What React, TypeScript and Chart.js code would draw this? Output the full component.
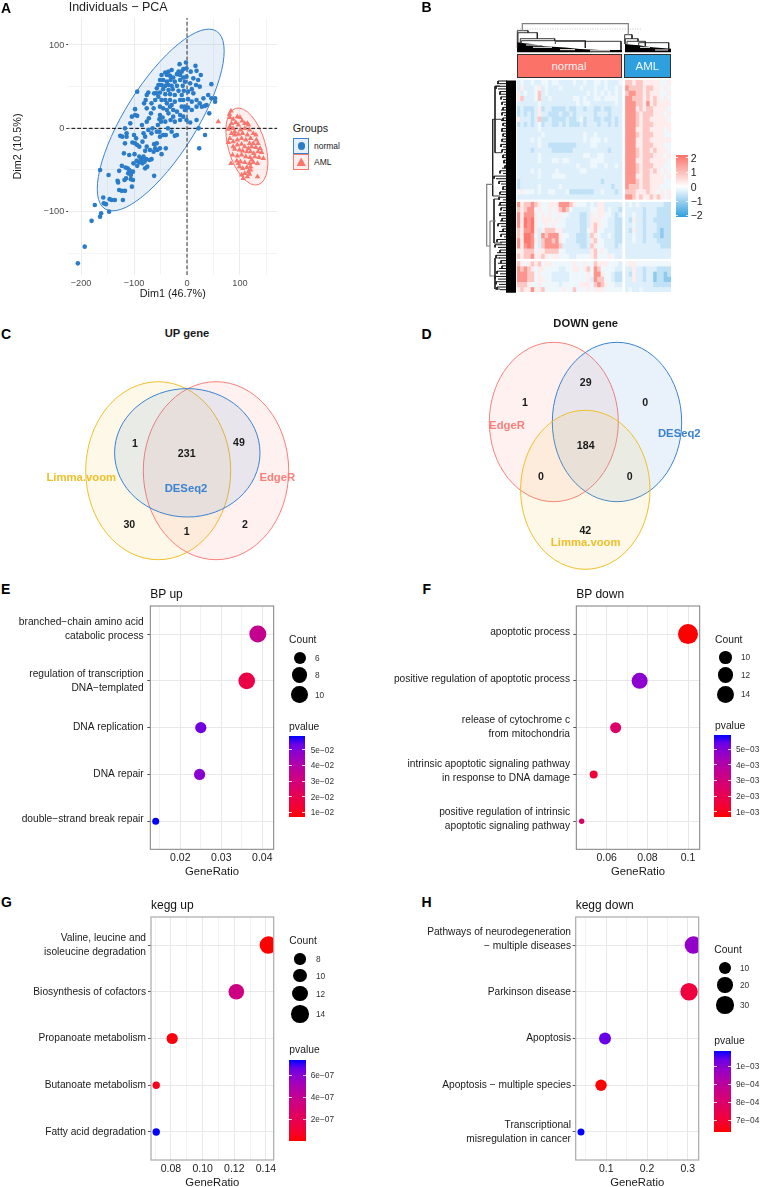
import React, { useEffect, useRef } from "react";
import { Chart, registerables } from "chart.js";

Chart.register(...registerables);
Chart.defaults.font.family = "'Liberation Sans', Arial, sans-serif";

const FONT = "'Liberation Sans', Arial, sans-serif";

/* ---------- Panel A data ---------- */
const pcaNormal: number[][] = [
  [-206,-162],[-193,-142],[-180,-111],[-164,-106],[-162,-102],[-147,-100],[-174,-92],[-157,-90],[-153,-91],[-158,-83],[-146,-85],[-142,-86],[-136,-86],[-121,-86],[-128,-74],[-123,-75],[-117,-75],[-104,-70],[-131,-63],[-130,-65],[-118,-62],[-115,-60],[-106,-61],[-102,-62],[-148,-56],[-164,-50],[-128,-51],[-123,-45],[-116,-47],[-112,-48],[-109,-50],[-106,-52],[-102,-52],[-111,-54],[-106,-56],[-62,-57],
  [-119,-30],[-109,-32],[-99,-31],[-95,-39],[-101,-42],[-90,-34],[-87,-38],[-84,-42],[-85,-36],[-80,-40],[-90,-41],[-77,-37],[-94,-45],[-75,-46],[-79,-48],[-82,-34],[-71,-38],[-67,-37],[-60,-24],[-57,-18],[-51,-24],[-48,-31],[-40,-24],[-62,-19],[-76,-22],[-79,-27],[-70,-26],[-56,-26],[-63,-28],
  [-126,-9],[-122,-10],[-114,-6],[-114,-10],[-103,-17],[-98,-18],[-94,-20],[-100,-8],[-96,-12],[-90,-22],[-117,-18],[-82,-6],[-79,-10],[-84,-16],[-67,-6],[-57,-4],[-51,-10],[-45,-8],[-40,-8],[-23,-9],[-19,-8],[-29,-4],[-36,0],[34,-8],[23,-24],[22,0],[-52,-4],[-65,0],[-73,-2],[-85,4],[-98,16],[-94,15],[-104,14],[-98,23],[-107,6],[-117,0],[-76,8],[-72,12],[-68,18],[-63,24],[-76,24],[-78,34],[-76,40],[-94,44],[-73,43],[-81,30],[-67,30],[-60,34],[-62,42],[-54,38],[-57,48],[-52,52],[-57,42],[-48,34],[-51,26],[-45,24],[-51,16],[-52,11],[-46,13],[-41,8],[-49,8],[-55,4],[-35,18],[-38,22],[-32,26],[-29,28],[-26,22],[-19,20],[-13,16],[-7,14],[-4,22],[-1,10],[6,7],[18,10],[-13,10],[-23,8],[-31,10],[-26,14],
  [-14,77],[-2,79],[16,75],[-7,71],[-1,72],[18,69],[7,68],[26,64],[-10,68],[-16,68],[-19,65],[-29,70],[-35,68],[-41,67],[-48,64],[-38,64],[-32,63],[-26,61],[-13,64],[-7,61],[-1,62],[12,60],[21,58],[-51,58],[-45,58],[-38,56],[-31,58],[-23,56],[-13,58],[-4,56],[6,54],[17,52],[-54,52],[-48,52],[-41,51],[-35,52],[-29,51],[-19,51],[-8,51],[9,47],[46,53],[24,50],[-45,47],[-35,46],[-27,47],[-16,45],[-6,45],[2,44],[-51,43],[-41,41],[-32,41],[-23,40],[-10,40],[12,42],[40,40],[46,36],[53,36],[53,32],[31,36],[18,34],[2,35],[9,32],[24,30],[34,27],[18,26],[28,26],[42,18],[37,28],[-7,34],[-13,34],[-23,32],[-32,34],[-41,34],[-38,30],[-4,26],[2,25],[9,22],[-10,26],
];
const pcaAml: number[][] = [
  [59,8],[83,21],[80,17],[95,14],[100,13],[87,11],[81,13],[104,9],[109,6],[114,6],[84,6],[92,7],[97,4],[81,2],[78,-1],[87,0],[101,-2],[109,0],[118,-2],[125,-6],[84,-6],[90,-8],[97,-7],[105,-6],[114,-8],[120,-12],[131,-14],[78,-17],[87,-16],[95,-14],[103,-12],[111,-14],[118,-18],[125,-18],[134,-18],[95,-20],[103,-19],[109,-22],[116,-24],[122,-22],[130,-23],[138,-24],[90,-25],[99,-26],[105,-27],[113,-28],[120,-28],[126,-30],[134,-28],[141,-29],[86,-32],[95,-33],[103,-32],[111,-34],[119,-35],[128,-34],[136,-35],[144,-36],[83,-42],[94,-39],[101,-40],[109,-41],[118,-42],[125,-41],[133,-42],[99,-46],[105,-48],[113,-47],[120,-46],[116,-52],[109,-54],[118,-55],[114,-58],[106,-60],[103,-56],[133,-58],[120,-50],[87,-22],[81,-12],[116,4],[90,-4],[130,-8],[122,-38],[97,-42],
];
const pcaTicksX = [-200, -150, -100, -50, 0, 50, 100, 150];
const pcaTicksY = [-150, -100, -50, 0, 50, 100];

/* ---------- Panel B data: one digit per cell, 0 = most negative, 8 = most positive, w = blank row ---------- */
const heatNormal = [
  "343343344344333343343344343334","353334534333433333433343343343","534334634333333333334343434343","563334633433333344343344344443","333333433333333334344333333343","232223523322223223323322322333","232323533222322323333323332333",
  "533323622322223223423322322323","232323423322323222323332332323","333333433333333333333333333333","333333343333333333343343333333","333343433333333333343444343333","333333433222222223333443333333","333323333322222233333333332333",
  "333333433333333333344334433333","333333433344344333333444433333","333333333333333334333443343343","333343433334333333443333333333","333333433344443333333333333333","233333333333333333333333233333","233333433333433333333333333233",
  "454443433443334222222233433323","333333333333333333333333333333","wwwwwwwwwwwwwwwwwwwwwwwwwwwwww","756676544555777654443435533333","656774544545676433333445534332","757775454544544333223545544323","758785455545443333223555443322",
  "758785445454443333223565443322","657785356665533333224564433322","658874376777544332223654334322","758875367767543332223564433322","757874367777633333223654433323","556664556666443333333564543333","656675565455444334444564445433",
  "wwwwwwwwwwwwwwwwwwwwwwwwwwwwww","654565645544444454454465554443","767654554444334455456476444433","777664544433333444445477544322","777664554433333444445376644322","666544544444344444555467654433","565575564444454464445455544444",
];
const heatAml = [
  "6656655555445","7666656655454","6776656555445","7766656565454","7776657565555","7775656655554","7776566655545",
  "7776566555554","7776566655555","7775566555545","7776566655544","7775566555555","7775566655544","7776566565554",
  "7776566655545","7775566555554","7776566655544","7776566565454","7775566555545","7776566555544","7666566555444",
  "6665556554545","7765655656545","wwwwwwwwwwwww","3434333333322","3333323332222","3343323332222","3253323322222",
  "3343323332222","3253323332122","3343323322122","3343323332222","3333333333222","3333333333333","3333333333333",
  "wwwwwwwwwwwww","4554444444444","3353323332222","3253323312212","3353323312211","3333333322222","3433433333333",
];
const heatCodeValues: Record<string, number> = { "0": -1.8, "1": -1.1, "2": -0.6, "3": -0.33, "4": -0.17, "5": 0.25, "6": 0.8, "7": 1.5, "8": 1.9, w: 0 };
const heatScaleTicks = [2, 1, 0, -1, -2];

/* dendrogram branches, in figure units; null starts a new branch */
const dendroGray: (number[] | null)[] = [
  [522.3,31],[522.3,23.7],[628.3,23.7],[628.3,34.7],null,
  [492.7,184.3],[486.7,184.3],[486.7,246],[490,246],null,
  [490,221],[490,276],[494,276],null,[490,221],[496,221],null,
];
const dendroBlack: (number[] | null)[] = [
  [517.3,48],[517.3,30.7],[528,30.7],[528,32.7],null,[518,42],[518,32.7],[537.3,32.7],[537.3,38.7],null,
  [520.3,44],[520.3,38.7],[554.7,38.7],[554.7,41],null,[521.3,44],[521.3,40.7],[585.3,40.7],[585.3,48],null,[555.3,44],[555.3,41.3],[621,41.3],[621,50],null,
  [624.7,44],[624.7,34.7],[632,34.7],[632,38.7],null,[625.3,44],[625.3,38.7],[638,38.7],[638,41.3],null,[627,44],[627,41.3],[645.3,41.3],[645.3,46],null,[638.7,46],[638.7,42.7],[668.7,42.7],[668.7,50],null,
  [492.7,119.3],[492.7,196],null,[492.7,119.3],[503,119.3],null,[492.7,196],[500,196],null,[495,86],[495,152.7],null,[495,86],[500,86],null,[495,152.7],[502,152.7],null,[494,199],[494,243],null,[494,199],[500,199],null,[494,243],[502,243],null,[495,258],[495,289],null,[495,258],[500,258],null,[495,289],[500,289],null,
];
const dendroWhiteGaps: (number[] | null)[] = [
  [526,45],[540,45],null,[533,47.3],[552,47.3],null,[560,49.7],[575,49.7],null,[590,50.8],[610,50.8],null,[640,47.3],[650,47.3],null,[655,50],[668,50],null,
];
const dendroMassTop = [[517,42],[522,43],[532,44],[545,46.3],[565,47.5],[580,49],[600,50],[622,50],[622,52.3],[517,52.3]];
const dendroMassTopAml = [[625,44],[632,44.7],[639,45.3],[652,47.3],[671,48.7],[671,52.3],[625,52.3]];
const dendroMassLeft = [[506,80.5],[516,80.5],[516,292.7],[506,292.7]];
/* where each row of the left dendrogram's leaf branches starts, top to bottom */
const dendroLeafStart = [
  498,497,496,498,500,499,501,503,502,504,503,501,502,504,503,501,503,504,502,501,
  503,504,502,503,501,503,502,504,503,502,504,503,505,502,500,503,494,496,499,501,
  503,502,500,501,499,503,500,498,501,503,500,499,502,500,498,501,503,499,501,504,
  497,500,495,498,500,497,496,499,501,498,502,499,497,500,495,498,496,499,497,500,
];

/* ---------- Panels C and D data ---------- */
const vennUpSets = [
  { name: "Limma.voom", x: 158.2, y: 470.7, rx: 72.5, ry: 89, color: "#EFBF2A" },
  { name: "EdgeR", x: 216, y: 470.7, rx: 72.7, ry: 89, color: "#FA7F7A" },
  { name: "DESeq2", x: 187.3, y: 452.8, rx: 72.7, ry: 64.2, color: "#3B82D0" },
];
const vennDownSets = [
  { name: "EdgeR", x: 553.8, y: 422, rx: 64.5, ry: 79.7, color: "#FA7F7A" },
  { name: "DESeq2", x: 617, y: 422, rx: 64.7, ry: 79.7, color: "#3B82D0" },
  { name: "Limma.voom", x: 585.3, y: 489.8, rx: 64.7, ry: 79.5, color: "#EFBF2A" },
];
const vennUpCounts: [string, number, number][] = [["1",135,442.7],["231",186.7,453.3],["49",239,442.3],["30",129.3,524],["1",186.7,531.3],["2",245,524]];
const vennDownCounts: [string, number, number][] = [["29",585.7,382],["1",525,402.3],["0",645.3,402.3],["184",585.7,445],["0",541,476],["0",629.7,476],["42",585.3,530.3]];
const vennUpNames: [string, number, number, string][] = [["Limma.voom",81.3,477.7,"#EFBF2A"],["EdgeR",277.3,477.7,"#FA7F7A"],["DESeq2",186,489,"#3B82D0"]];
const vennDownNames: [string, number, number, string][] = [["EdgeR",507,426,"#FA7F7A"],["DESeq2",679.3,433.7,"#3B82D0"],["Limma.voom",585.7,542.7,"#EFBF2A"]];

/* ---------- Panels E-H data ---------- */
const rowPositions = [5, 4, 3, 2, 1];

const bpUpTerms = [["branched−chain amino acid","catabolic process"],["regulation of transcription","DNA−templated"],["DNA replication"],["DNA repair"],["double−strand break repair"]];
const bpUpRatio = [0.0389, 0.0362, 0.025, 0.0247, 0.014];
const bpUpCount = [11, 10, 5, 5, 3];
const bpUpP = [0.034, 0.018, 0.0525, 0.049, 0.0588];

const bpDownTerms = [["apoptotic process"],["positive regulation of apoptotic process"],["release of cytochrome c","from mitochondria"],["intrinsic apoptotic signaling pathway","in response to DNA damage"],["positive regulation of intrinsic","apoptotic signaling pathway"]];
const bpDownRatio = [0.1, 0.0762, 0.0644, 0.0536, 0.0477];
const bpDownCount = [17, 13, 9, 8, 7];
const bpDownP = [0.00068, 0.00485, 0.0025, 0.0015, 0.0025];

const keggUpTerms = [["Valine, leucine and","isoleucine degradation"],["Biosynthesis of cofactors"],["Propanoate metabolism"],["Butanoate metabolism"],["Fatty acid degradation"]];
const keggUpRatio = [0.1415, 0.1213, 0.0808, 0.0707, 0.0707];
const keggUpCount = [14, 12, 8, 7, 7];
const keggUpP = [1e-9, 3.5e-7, 2e-8, 4e-8, 7.36e-7];

const keggDownTerms = [["Pathways of neurodegeneration","− multiple diseases"],["Parkinson disease"],["Apoptosis"],["Apoptosis − multiple species"],["Transcriptional","misregulation in cancer"]];
const keggDownRatio = [0.3138, 0.3033, 0.0968, 0.087, 0.0378];
const keggDownCount = [33, 32, 10, 9, 4];
const keggDownP = [9.84e-4, 7.1e-4, 1.038e-3, 6.33e-4, 1.083e-3];

/* ---------- helpers ---------- */
type Lab = [number, number, number];
const toLin = (c: number) => { const v = c / 255; return v <= 0.04045 ? v / 12.92 : Math.pow((v + 0.055) / 1.055, 2.4); };
const fromLin = (v: number) => { const c = v <= 0 ? 0 : v <= 0.0031308 ? 12.92 * v : 1.055 * Math.pow(v, 1 / 2.4) - 0.055; return Math.max(0, Math.min(255, Math.round(c * 255))); };
function rgbToLab(r: number, g: number, b: number): Lab {
  const R = toLin(r), G = toLin(g), B = toLin(b);
  const f = (t: number) => (t > 0.008856 ? Math.cbrt(t) : 7.787 * t + 16 / 116);
  const x = f((0.4124 * R + 0.3576 * G + 0.1805 * B) / 0.95047);
  const y = f(0.2126 * R + 0.7152 * G + 0.0722 * B);
  const z = f((0.0193 * R + 0.1192 * G + 0.9505 * B) / 1.08883);
  return [116 * y - 16, 500 * (x - y), 200 * (y - z)];
}
function labToCss([L, a, b]: Lab): string {
  const fy = (L + 16) / 116, fx = fy + a / 500, fz = fy - b / 200;
  const g = (t: number) => (t * t * t > 0.008856 ? t * t * t : (t - 16 / 116) / 7.787);
  const X = 0.95047 * g(fx), Y = g(fy), Z = 1.08883 * g(fz);
  return `rgb(${fromLin(3.2406 * X - 1.5372 * Y - 0.4986 * Z)},${fromLin(-0.9689 * X + 1.8758 * Y + 0.0415 * Z)},${fromLin(0.0557 * X - 0.204 * Y + 1.057 * Z)})`;
}
const LAB_RED = rgbToLab(255, 0, 0), LAB_BLUE = rgbToLab(0, 0, 255);
const pColor = (t: number) => {
  const u = Math.max(0, Math.min(1, t));
  return labToCss([0, 1, 2].map((i) => LAB_RED[i] + (LAB_BLUE[i] - LAB_RED[i]) * u) as Lab);
};
const sizeOf = (stops: number[][], c: number) => {
  if (c <= stops[0][0]) return stops[0][1];
  for (let i = 1; i < stops.length; i++) {
    if (c <= stops[i][0]) {
      const [a, ra] = stops[i - 1], [b, rb] = stops[i];
      return ra + ((rb - ra) * (c - a)) / (b - a);
    }
  }
  return stops[stops.length - 1][1];
};
const heatColor = (v: number) => {
  const t = Math.min(1, Math.abs(v) / 2);
  const target = v >= 0 ? [250, 114, 104] : [47, 159, 224];
  const m = target.map((c) => Math.round(255 + (c - 255) * t));
  return `rgb(${m[0]},${m[1]},${m[2]})`;
};
const toBranchPoints = (segs: (number[] | null)[]) => segs.map((p) => (p ? { x: p[0], y: p[1] } : { x: NaN, y: NaN }));
const leafBranches = () => {
  const out: (number[] | null)[] = [];
  const step = (292.3 - 81) / dendroLeafStart.length;
  dendroLeafStart.forEach((x, i) => {
    const y = 81 + i * step;
    out.push([507, y], [x, y]);
    if (i % 2 === 0) out.push([x, y + step]);
    out.push(null);
  });
  return out;
};
/* a scale's labels must not push the plot area inward */
const noOverflow = (s: any) => { s.paddingTop = 0; s.paddingBottom = 0; s.paddingLeft = 0; s.paddingRight = 0; };

/* ---------- DOM helpers ---------- */
function Txt(p: { x: number; y: number; s: number; c?: string; w?: number | string; a?: "l" | "c" | "r"; rot?: number; children: React.ReactNode }) {
  const tx = p.a === "c" ? "-50%" : p.a === "r" ? "-100%" : "0";
  return (
    <div style={{ position: "absolute", left: p.x, top: p.y, transform: `translate(${tx},-50%)${p.rot ? ` rotate(${p.rot}deg)` : ""}`, font: `${p.w || 400} ${p.s}px ${FONT}`, color: p.c || "#1a1a1a", whiteSpace: "nowrap", lineHeight: 1 }}>
      {p.children}
    </div>
  );
}
function Box(p: { x: number; y: number; w: number; h: number; style?: React.CSSProperties; children?: React.ReactNode }) {
  return <div style={{ position: "absolute", left: p.x, top: p.y, width: p.w, height: p.h, boxSizing: "border-box", ...p.style }}>{p.children}</div>;
}
function ChartCanvas(p: { left: number; top: number; width: number; height: number; config: () => any }) {
  const ref = useRef<HTMLCanvasElement | null>(null);
  useEffect(() => {
    const chart = new Chart(ref.current as HTMLCanvasElement, p.config());
    return () => chart.destroy();
  }, []);
  return (
    <div style={{ position: "absolute", left: p.left, top: p.top, width: p.width, height: p.height }}>
      <canvas ref={ref} width={p.width} height={p.height} style={{ display: "block", width: p.width, height: p.height }} />
    </div>
  );
}
const baseOpts = { responsive: false, animation: false, events: [] as string[], plugins: { legend: { display: false }, tooltip: { enabled: false } } };

/* ---------- Panel A ---------- */
const pcaLayout = { left: 0, top: 0, w: 285, h: 305, px0: 68.3, px1: 277.3, py0: 18, py1: 275 };
const pcaEllipses = [
  { cx: -49.6, cy: 10, a: 104.9, b: 35.8, rot: -57.9, color: "59,130,208" },
  { cx: 113, cy: -21.8, a: 39.8, b: 18.5, rot: 73.6, color: "248,118,109" },
];
const pcaEllipsePlugin = {
  id: "pcaEllipses",
  beforeDatasetsDraw(chart: any) {
    const { ctx, scales } = chart;
    pcaEllipses.forEach((e) => {
      ctx.save();
      ctx.beginPath();
      ctx.ellipse(scales.x.getPixelForValue(e.cx), scales.y.getPixelForValue(e.cy), e.a, e.b, (e.rot * Math.PI) / 180, 0, Math.PI * 2);
      ctx.fillStyle = `rgba(${e.color},0.12)`;
      ctx.fill();
      ctx.strokeStyle = `rgb(${e.color})`;
      ctx.lineWidth = 1;
      ctx.stroke();
      ctx.restore();
    });
  },
};
const pcaConfig = () => ({
  type: "scatter",
  data: {
    datasets: [
      { data: [{ x: -229, y: 0 }, { x: 170.4, y: 0 }], showLine: true, pointRadius: 0, borderColor: "#000", borderWidth: 1, borderDash: [3.8, 2], order: 3 },
      { data: [{ x: 0, y: -176 }, { x: 0, y: 132.4 }], showLine: true, pointRadius: 0, borderColor: "#333", borderWidth: 1, borderDash: [3.8, 2], order: 3 },
      { data: pcaNormal.map(([x, y]) => ({ x, y })), pointStyle: "circle", pointRadius: 2.3, pointBackgroundColor: "#2A7BC8", pointBorderWidth: 0, order: 1 },
      { data: pcaAml.map(([x, y]) => ({ x, y })), pointStyle: "triangle", pointRadius: 3.2, pointBackgroundColor: "#F8776D", pointBorderWidth: 0, order: 2 },
    ],
  },
  options: {
    ...baseOpts,
    layout: { autoPadding: false, padding: { top: pcaLayout.py0 - pcaLayout.top, right: pcaLayout.w - pcaLayout.px1, left: 0, bottom: 0 } },
    scales: {
      x: {
        type: "linear", min: -224, max: 170.4,
        afterBuildTicks: (s: any) => { s.ticks = pcaTicksX.map((value) => ({ value })); },
        afterFit: (s: any) => { s.height = pcaLayout.h - pcaLayout.py1; noOverflow(s); },
        ticks: { autoSkip: false, maxRotation: 0, minRotation: 0, padding: 2.5, color: "#4d4d4d", font: { size: 9.2 }, callback: (v: number) => (v % 100 === 0 ? String(v).replace("-", "−") : "") },
        grid: { drawTicks: false, color: (c: any) => (c.tick && c.tick.value % 100 === 0 ? "#ececec" : "#f4f4f4"), lineWidth: 1 },
        border: { display: false },
        title: { display: true, text: "Dim1 (46.7%)", color: "#1a1a1a", font: { size: 10.8 }, padding: { top: 0, bottom: 4.2 } },
      },
      y: {
        type: "linear", min: -176, max: 132.4,
        afterBuildTicks: (s: any) => { s.ticks = pcaTicksY.map((value) => ({ value })); },
        afterFit: (s: any) => { s.width = pcaLayout.px0; noOverflow(s); },
        ticks: { autoSkip: false, padding: 2, color: "#4d4d4d", font: { size: 9.2 }, callback: (v: number) => (v % 100 === 0 ? String(v).replace("-", "−") : "") },
        grid: { tickLength: 2, tickColor: (c: any) => (c.tick && c.tick.value % 100 === 0 ? "#333" : "rgba(0,0,0,0)"), color: (c: any) => (c.tick && c.tick.value % 100 === 0 ? "#ececec" : "#f4f4f4"), lineWidth: 1 },
        border: { display: false },
        title: { display: true, text: "Dim2 (10.5%)", color: "#1a1a1a", font: { size: 10.8 }, padding: { top: 11.2, bottom: 0 } },
      },
    },
  },
  plugins: [pcaEllipsePlugin],
});

/* ---------- Panel B ---------- */
const heatConfig = () => {
  const labels = Array.from({ length: 44 }, (_, i) => String(i));
  let edge = 0;
  const datasets = heatNormal.map((row, i) => {
    const codes = row + " " + heatAml[i];
    const span = codes[0] === "w" ? 0.45 : 1;
    const from = edge;
    edge += span;
    return {
      data: labels.map((_, c) => (codes[c] === " " ? null : [from, from + span])),
      backgroundColor: labels.map((_, c) => (codes[c] === " " ? "rgba(0,0,0,0)" : heatColor(heatCodeValues[codes[c]]))),
      borderWidth: 0,
      barPercentage: 1,
      categoryPercentage: 1,
      grouped: false,
    };
  });
  return {
    type: "bar",
    data: { labels, datasets },
    options: { ...baseOpts, layout: { autoPadding: false }, scales: { x: { display: false }, y: { display: false, reverse: true, min: 0, max: edge } } },
  };
};
const polygonPlugin = {
  id: "dendroMass",
  beforeDatasetsDraw(chart: any) {
    const { ctx, scales } = chart;
    [dendroMassTop, dendroMassTopAml, dendroMassLeft].forEach((poly) => {
      ctx.beginPath();
      poly.forEach(([x, y], i) => {
        const X = scales.x.getPixelForValue(x), Y = scales.y.getPixelForValue(y);
        if (i) ctx.lineTo(X, Y); else ctx.moveTo(X, Y);
      });
      ctx.closePath();
      ctx.fillStyle = "#000";
      ctx.fill();
    });
  },
};
const dendroConfig = () => ({
  type: "scatter",
  data: {
    datasets: [
      { data: toBranchPoints(dendroGray), showLine: true, spanGaps: false, pointRadius: 0, borderColor: "#808080", borderWidth: 1.2 },
      { data: toBranchPoints(dendroBlack), showLine: true, spanGaps: false, pointRadius: 0, borderColor: "#222", borderWidth: 0.9 },
      { data: toBranchPoints(leafBranches()), showLine: true, spanGaps: false, pointRadius: 0, borderColor: "#111", borderWidth: 1 },
      { data: toBranchPoints(dendroWhiteGaps), showLine: true, spanGaps: false, pointRadius: 0, borderColor: "#fff", borderWidth: 1 },
      { data: [{ x: 517.3, y: 29 }, { x: 642, y: 29 }], showLine: true, pointRadius: 0, borderColor: "#aaa", borderWidth: 0.7, borderDash: [1, 1.5] },
    ],
  },
  options: {
    ...baseOpts,
    layout: { autoPadding: false },
    scales: { x: { display: false, type: "linear", min: 480, max: 680 }, y: { display: false, type: "linear", reverse: true, min: 15, max: 295 } },
  },
  plugins: [polygonPlugin],
});

/* ---------- Panels C, D ---------- */
const vennPlugin = {
  id: "vennEllipses",
  beforeDatasetsDraw(chart: any) {
    const { ctx, scales } = chart;
    chart.data.datasets.forEach((ds: any) => {
      const d = ds.data[0];
      const X = scales.x.getPixelForValue(d.x), Y = scales.y.getPixelForValue(d.y);
      const hex = ds.setColor;
      ctx.save();
      ctx.beginPath();
      ctx.ellipse(X, Y, d.rx, d.ry, 0, 0, Math.PI * 2);
      ctx.globalAlpha = 0.11;
      ctx.fillStyle = hex;
      ctx.fill();
      ctx.globalAlpha = 1;
      ctx.strokeStyle = hex;
      ctx.lineWidth = 1;
      ctx.stroke();
      ctx.restore();
    });
  },
};
const vennConfig = (sets: typeof vennUpSets, x0: number, x1: number, y0: number, y1: number) => () => ({
  type: "scatter",
  data: { datasets: sets.map((s) => ({ label: s.name, setColor: s.color, data: [{ x: s.x, y: s.y, rx: s.rx, ry: s.ry }], pointRadius: 0 })) },
  options: { ...baseOpts, layout: { autoPadding: false }, scales: { x: { display: false, type: "linear", min: x0, max: x1 }, y: { display: false, type: "linear", reverse: true, min: y0, max: y1 } } },
  plugins: [vennPlugin],
});

/* ---------- Panels E-H ---------- */
type Dot = {
  title: string; terms: string[][]; ratio: number[]; count: number[]; p: number[];
  canvasLeft: number; px0: number; px1: number; py0: number; py1: number; titleY: number; labelGap: number;
  xMin: number; xMax: number; xMajor: number[]; xMinor: number[]; xFmt: (v: number) => string; nudge: number[];
  stops: number[][]; legendCounts: number[]; legendY: number[]; legendCx: number; legendTx: number; legendX: number; countY: number;
  pMin: number; pMax: number; pTicks: number[]; pFmt: (v: number) => string; pvalueY: number; barX: number; barW: number; barY0: number; barY1: number; barTx: number;
  borderColor: string; borderWidth: number;
};
const expFmt = (v: number) => v.toExponential(0).replace("-", "−").replace(/e\−(\d)$/, "e−0$1");
const dots: Dot[] = [
  {
    title: "BP up", terms: bpUpTerms, ratio: bpUpRatio, count: bpUpCount, p: bpUpP,
    canvasLeft: 0, px0: 150.3, px1: 273.7, py0: 606, py1: 849.3, titleY: 872, labelGap: 6.6,
    xMin: 0.01268, xMax: 0.04278, xMajor: [0.02, 0.03, 0.04], xMinor: [0.015, 0.025, 0.035], xFmt: (v) => v.toFixed(2), nudge: [0.1, 0, 0, 0.015, 0.05],
    stops: [[3, 3.5], [5, 5.6], [6, 6], [8, 7.6], [10, 8.3], [11, 8.5]], legendCounts: [6, 8, 10], legendY: [658, 675, 694.7], legendCx: 299.7, legendTx: 315, legendX: 289, countY: 640,
    pMin: 0.0068, pMax: 0.0588, pTicks: [0.05, 0.04, 0.03, 0.02, 0.01], pFmt: expFmt, pvalueY: 726.7, barX: 289, barW: 16, barY0: 736, barY1: 817.3, barTx: 310.7,
    borderColor: "#7f7f7f", borderWidth: 1,
  },
  {
    title: "BP down", terms: bpDownTerms, ratio: bpDownRatio, count: bpDownCount, p: bpDownP,
    canvasLeft: 385, px0: 576.3, px1: 699.7, py0: 606, py1: 849.3, titleY: 872, labelGap: 6.3,
    xMin: 0.04505, xMax: 0.10575, xMajor: [0.06, 0.08, 0.1], xMinor: [0.05, 0.07, 0.09], xFmt: (v) => (v === 0.1 ? "0.1" : v.toFixed(2)), nudge: [0.03, 0.03, 0.02, 0.07, 0.04],
    stops: [[7, 2.7], [8, 4], [9, 5.5], [10, 6.3], [12, 7.7], [13, 8], [14, 8.7], [17, 10]], legendCounts: [10, 12, 14], legendY: [657.3, 675, 694.3], legendCx: 725.7, legendTx: 741, legendX: 715, countY: 640,
    pMin: 0.00068, pMax: 0.00589, pTicks: [0.005, 0.004, 0.003, 0.002, 0.001], pFmt: expFmt, pvalueY: 726, barX: 714.3, barW: 16.7, barY0: 735.3, barY1: 816.7, barTx: 736,
    borderColor: "#7f7f7f", borderWidth: 1,
  },
  {
    title: "kegg up", terms: keggUpTerms, ratio: keggUpRatio, count: keggUpCount, p: keggUpP,
    canvasLeft: 0, px0: 151, px1: 273.7, py0: 917, py1: 1160, titleY: 1182.7, labelGap: 5,
    xMin: 0.0674, xMax: 0.1449, xMajor: [0.08, 0.1, 0.12, 0.14], xMinor: [0.07, 0.09, 0.11, 0.13], xFmt: (v) => v.toFixed(2), nudge: [0, 0, 0, 0, 0],
    stops: [[7, 3.7], [8, 5.6], [10, 6.7], [12, 7.8], [14, 8.7]], legendCounts: [8, 10, 12, 14], legendY: [959, 975.7, 993.7, 1014], legendCx: 300, legendTx: 316, legendX: 289.3, countY: 941,
    pMin: 0, pMax: 7.36e-7, pTicks: [6e-7, 4e-7, 2e-7], pFmt: expFmt, pvalueY: 1050, barX: 289.3, barW: 16.4, barY0: 1060, barY1: 1141, barTx: 310.7,
    borderColor: "#aaaaaa", borderWidth: 1.2,
  },
  {
    title: "kegg down", terms: keggDownTerms, ratio: keggDownRatio, count: keggDownCount, p: keggDownP,
    canvasLeft: 385, px0: 575.7, px1: 698.7, py0: 917, py1: 1160, titleY: 1182.7, labelGap: 4.7,
    xMin: 0.0248, xMax: 0.327, xMajor: [0.1, 0.2, 0.3], xMinor: [0.05, 0.15, 0.25], xFmt: (v) => v.toFixed(1), nudge: [0.12, 0, 0, 0, 0],
    stops: [[4, 3.5], [9, 5.7], [10, 6], [20, 7.7], [30, 8.7], [33, 8.7]], legendCounts: [10, 20, 30], legendY: [968, 985, 1005], legendCx: 725, legendTx: 740, legendX: 714.3, countY: 950,
    pMin: 6.33e-4, pMax: 1.083e-3, pTicks: [1e-3, 9e-4, 8e-4, 7e-4], pFmt: expFmt, pvalueY: 1041, barX: 714.3, barW: 16.7, barY0: 1051, barY1: 1132, barTx: 736,
    borderColor: "#aaaaaa", borderWidth: 1.2,
  },
];
const dotCanvasH = (d: Dot) => Math.round(d.titleY + 6.8 - (d.py0 - 6));
const dotCanvasW = (d: Dot) => Math.round(d.px1 + 6 - d.canvasLeft);
const panelBorderPlugin = {
  id: "panelBorder",
  afterDatasetsDraw(chart: any, _a: any, opts: any) {
    const { ctx, chartArea: c } = chart;
    ctx.save();
    ctx.strokeStyle = opts.color;
    ctx.lineWidth = opts.width;
    ctx.strokeRect(c.left, c.top, c.right - c.left, c.bottom - c.top);
    ctx.restore();
  },
};
const dotConfig = (d: Dot) => () => {
  const h = dotCanvasH(d), w = dotCanvasW(d);
  const bottomH = h - (d.py1 - (d.py0 - 6));
  const rows = d.terms.map((_, i) => rowPositions[i]);
  const rowsShift = rows.map((r, i) => r + d.nudge[i]);
  const labelByTick = (v: number) => {
    const i = rowsShift.findIndex((r) => Math.abs(r - v) < 1e-6);
    return i >= 0 ? d.terms[i] : "";
  };
  return {
    type: "bubble",
    data: {
      datasets: [{
        data: d.ratio.map((x, i) => ({ x, y: rows[i], r: sizeOf(d.stops, d.count[i]) })),
        backgroundColor: d.p.map((p) => pColor((p - d.pMin) / (d.pMax - d.pMin))),
        borderWidth: 0,
        yAxisID: "y",
      }],
    },
    options: {
      ...baseOpts,
      plugins: { ...baseOpts.plugins, panelBorder: { color: d.borderColor, width: d.borderWidth } },
      layout: { autoPadding: false, padding: { top: 6, right: w - (d.px1 - d.canvasLeft), left: 0, bottom: 0 } },
      scales: {
        x: {
          type: "linear", min: d.xMin, max: d.xMax,
          afterBuildTicks: (s: any) => { s.ticks = [...d.xMajor, ...d.xMinor].sort((a, b) => a - b).map((value) => ({ value })); },
          afterFit: (s: any) => { s.height = bottomH; noOverflow(s); },
          ticks: { autoSkip: false, maxRotation: 0, minRotation: 0, padding: 3, color: "#1a1a1a", font: { size: 10.5 }, callback: (v: number) => (d.xMajor.includes(v) ? d.xFmt(v) : "") },
          grid: { drawTicks: false, color: (c: any) => (c.tick && d.xMajor.includes(c.tick.value) ? "#e8e8e8" : "#f2f2f2"), lineWidth: 1 },
          border: { display: false },
          title: { display: true, text: "GeneRatio", color: "#1a1a1a", font: { size: 11.3 }, padding: { top: 0, bottom: 0 } },
        },
        y: {
          type: "linear", position: "left", weight: 0, min: 0.4, max: 5.6,
          afterBuildTicks: (s: any) => { s.ticks = rows.map((value) => ({ value })); },
          afterFit: (s: any) => { s.width = 0; noOverflow(s); },
          ticks: { display: false },
          grid: { color: "#e8e8e8", lineWidth: 1, tickLength: 3, tickColor: "#555" },
          border: { display: false },
        },
        yTerms: {
          type: "linear", position: "left", weight: 1, min: 0.4, max: 5.6,
          afterBuildTicks: (s: any) => { s.ticks = rowsShift.map((value) => ({ value })); },
          afterFit: (s: any) => { s.width = d.px0 - d.canvasLeft; noOverflow(s); },
          ticks: { autoSkip: false, padding: d.labelGap, color: "#1a1a1a", font: { size: 10.2, lineHeight: 1.37 }, callback: labelByTick },
          grid: { display: false, drawTicks: false },
          border: { display: false },
        },
      },
    },
    plugins: [panelBorderPlugin],
  };
};
function DotLegend({ d }: { d: Dot }) {
  const stops = Array.from({ length: 11 }, (_, i) => `${pColor(1 - i / 10)} ${i * 10}%`).join(",");
  const barH = d.barY1 - d.barY0;
  return (
    <>
      <Txt x={d.px0} y={d.py0 - 11.8} s={12} c="#111">{d.title}</Txt>
      <Txt x={d.legendX} y={d.countY} s={10.3}>Count</Txt>
      {d.legendCounts.map((c, i) => {
        const r = sizeOf(d.stops, c);
        return (
          <React.Fragment key={c}>
            <Box x={d.legendCx - r} y={d.legendY[i] - r} w={2 * r} h={2 * r} style={{ borderRadius: "50%", background: "#000" }} />
            <Txt x={d.legendTx} y={d.legendY[i]} s={8.3} c="#333">{c}</Txt>
          </React.Fragment>
        );
      })}
      <Txt x={d.legendX} y={d.pvalueY} s={10.3}>pvalue</Txt>
      <Box x={d.barX} y={d.barY0} w={d.barW} h={barH} style={{ background: `linear-gradient(to bottom,${stops})` }} />
      {d.pTicks.map((p) => {
        const y = d.barY0 + ((d.pMax - p) / (d.pMax - d.pMin)) * barH;
        return (
          <React.Fragment key={p}>
            <Box x={d.barX} y={y - 0.4} w={3} h={0.8} style={{ background: "rgba(255,255,255,.8)" }} />
            <Box x={d.barX + d.barW - 3} y={y - 0.4} w={3} h={0.8} style={{ background: "rgba(255,255,255,.8)" }} />
            <Txt x={d.barTx} y={y} s={8.3} c="#333">{d.pFmt(p)}</Txt>
          </React.Fragment>
        );
      })}
    </>
  );
}

const panelLetters: [string, number, number][] = [["A",1,8],["B",421.5,7],["C",1,334],["D",421.5,334],["E",1,589],["F",422.5,589],["G",1,902],["H",421.5,902]];

export default function App() {
  return (
    <div style={{ position: "absolute", left: 0, top: 0, width: 760, height: 1187, overflow: "hidden", background: "#fff" }}>
      <ChartCanvas left={pcaLayout.left} top={pcaLayout.top} width={pcaLayout.w} height={pcaLayout.h} config={pcaConfig} />
      <ChartCanvas left={517} top={80} width={154} height={212} config={heatConfig} />
      <ChartCanvas left={480} top={15} width={200} height={280} config={dendroConfig} />
      <ChartCanvas left={60} top={370} width={240} height={200} config={vennConfig(vennUpSets, 60, 300, 370, 570)} />
      <ChartCanvas left={480} top={335} width={210} height={245} config={vennConfig(vennDownSets, 480, 690, 335, 580)} />
      {dots.map((d) => (
        <ChartCanvas key={d.title} left={d.canvasLeft} top={d.py0 - 6} width={dotCanvasW(d)} height={dotCanvasH(d)} config={dotConfig(d)} />
      ))}

      {panelLetters.map(([t, x, y]) => <Txt key={t} x={x} y={y} s={14} w={700} c="#000">{t}</Txt>)}

      {/* Panel A title and legend */}
      <Txt x={68.7} y={6.7} s={12.5} c="#222">Individuals − PCA</Txt>
      <Txt x={292.7} y={128.3} s={10.8}>Groups</Txt>
      <Box x={293.3} y={138.3} w={15.7} h={15.6} style={{ border: "1px solid #3B82D0", background: "rgba(59,130,208,.12)" }} />
      <Box x={297.5} y={142.4} w={7.4} h={7.4} style={{ borderRadius: "50%", background: "#2A7BC8" }} />
      <Box x={293.3} y={154.3} w={15.7} h={15.7} style={{ border: "1px solid #F8776D", background: "rgba(248,118,109,.12)" }} />
      <Box x={296.5} y={157.5} w={9.4} h={8.6} style={{ background: "#F8776D", clipPath: "polygon(50% 0,100% 100%,0 100%)" }} />
      <Txt x={314} y={146.3} s={8.5} c="#222">normal</Txt>
      <Txt x={314} y={162} s={8.5} c="#222">AML</Txt>

      {/* Panel B annotation and colour key */}
      <Box x={517} y={54.3} w={105} h={24} style={{ background: "#FA7268", border: "1px solid #333" }} />
      <Box x={624.3} y={54.3} w={46.6} h={24} style={{ background: "#2E9FDF", border: "1px solid #333" }} />
      <Txt x={569} y={66.7} s={11.5} c="#fdeeee" a="c">normal</Txt>
      <Txt x={647.3} y={66.7} s={11.5} c="#f0f8ff" a="c">AML</Txt>
      <Box x={676} y={155} w={12.3} h={62.3} style={{ background: "linear-gradient(to bottom,#FA7268 0%,#fff 51%,#2F9FE0 100%)" }} />
      {heatScaleTicks.map((v, i) => {
        const y = [157.7, 172.3, 186.7, 201, 215][i];
        return (
          <React.Fragment key={v}>
            <Box x={676} y={y - 0.4} w={2.4} h={0.8} style={{ background: "rgba(255,255,255,.8)" }} />
            <Box x={685.9} y={y - 0.4} w={2.4} h={0.8} style={{ background: "rgba(255,255,255,.8)" }} />
            <Txt x={690.7} y={y} s={10.5} c="#222">{String(v).replace("-", "−")}</Txt>
          </React.Fragment>
        );
      })}

      {/* Panels C and D text */}
      <Txt x={187} y={333.7} s={11.2} w={700} a="c" c="#1a1a1a">UP gene</Txt>
      <Txt x={585.7} y={324.3} s={11.2} w={700} a="c" c="#1a1a1a">DOWN gene</Txt>
      {[...vennUpCounts, ...vennDownCounts].map(([t, x, y], i) => <Txt key={i} x={x} y={y} s={10.6} w={700} a="c" c="#1a1a1a">{t}</Txt>)}
      {[...vennUpNames, ...vennDownNames].map(([t, x, y, c], i) => <Txt key={i} x={x} y={y} s={11.3} w={700} a="c" c={c}>{t}</Txt>)}

      {dots.map((d) => <DotLegend key={d.title} d={d} />)}
    </div>
  );
}
